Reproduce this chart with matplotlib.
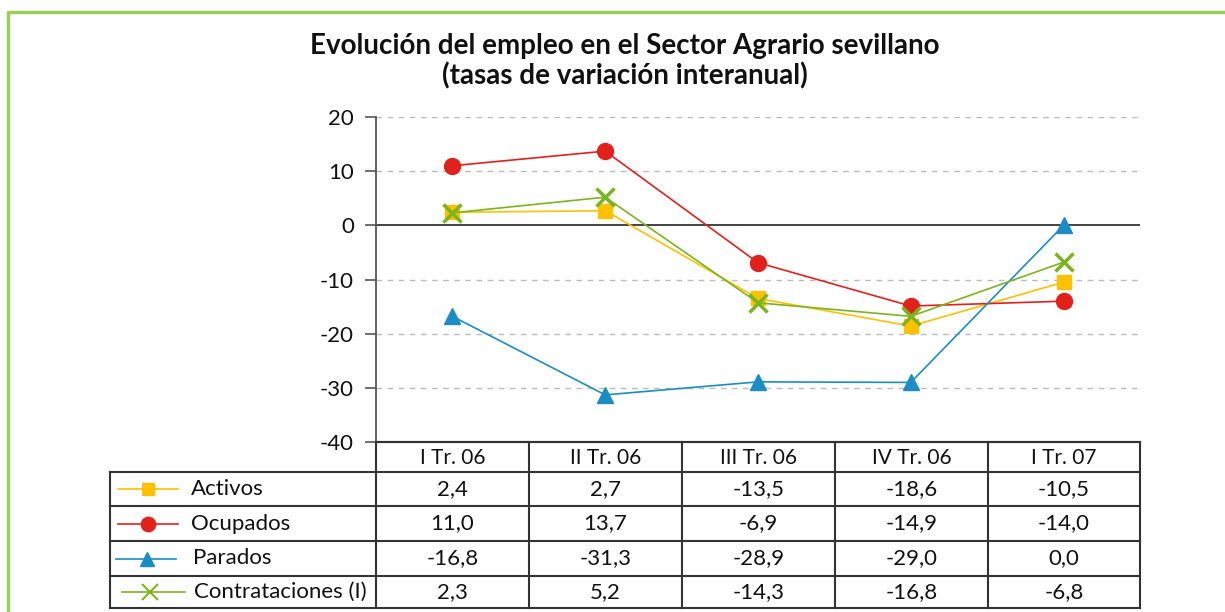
import matplotlib
matplotlib.use('Agg')
import matplotlib.pyplot as plt
import numpy as np

plt.rcParams['font.family'] = ['Lato', 'DejaVu Sans']

# datos
periodos = ['I Tr. 06', 'II Tr. 06', 'III Tr. 06', 'IV Tr. 06', 'I Tr. 07']
activos = [2.4, 2.7, -13.5, -18.6, -10.5]
ocupados = [11.0, 13.7, -6.9, -14.9, -14.0]
parados = [-16.8, -31.3, -28.9, -29.0, 0.0]
contrataciones = [2.3, 5.2, -14.3, -16.8, -6.8]
series = [
    ('Activos', activos, '#FFC000', 's', 10, 1.2),
    ('Ocupados', ocupados, '#E3211C', 'o', 11.5, 1.2),
    ('Parados', parados, '#1A8EC4', '^', 11, 1.2),
    ('Contrataciones (I)', contrataciones, '#7AB51D', 'x', 13, 1.2),
]

W, H = 1225, 612
fig = plt.figure(figsize=(W / 100, H / 100), dpi=100)

def fx(x):
    return x / W
def fy(y):
    return 1 - y / H

# ejes del grafico
x0, x1, ytop, ybot = 376, 1140, 117, 442
ax = fig.add_axes([fx(x0), fy(ybot), fx(x1) - fx(x0), fy(ytop) - fy(ybot)])
xs = np.arange(len(periodos))
ax.set_xlim(-0.5, len(periodos) - 0.5)
ax.set_ylim(-40, 20)
ax.set_yticks([-40, -30, -20, -10, 0, 10, 20])
ax.set_yticklabels(['-40', '-30', '-20', '-10', '0', '10', '20'], fontsize=16, color='#111111')
ax.tick_params(axis='y', direction='out', length=8, width=1.2, color='#555555', pad=8)
ax.set_xticks([])
for s in ['top', 'right', 'bottom']:
    ax.spines[s].set_visible(False)
ax.spines['left'].set_color('#555555')
ax.spines['left'].set_linewidth(1.3)
for g in [20, 10, -10, -20, -30]:
    ax.axhline(g, color='#BBBBBB', lw=1, ls=(0, (4, 4)), zorder=0)
ax.axhline(0, color='#222222', lw=1.2, zorder=1)
ax.axhline(-40, color='#222222', lw=1.5, zorder=1, clip_on=False)

for nombre, vals, col, mk, ms, lw in series:
    kw = dict(color=col, lw=lw, marker=mk, markersize=ms, zorder=3, clip_on=False)
    if mk == 'x':
        kw['markeredgewidth'] = 2.5
    ax.plot(xs, vals, **kw)

fig.text(fx(625), fy(46), 'Evolución del empleo en el Sector Agrario sevillano',
         ha='center', va='center', fontsize=20, fontweight='bold', color='#111111')
fig.text(fx(625), fy(76), '(tasas de variación interanual)',
         ha='center', va='center', fontsize=20, fontweight='bold', color='#111111')

# tabla de datos (capa en pixeles)
ov = fig.add_axes([0, 0, 1, 1], facecolor='none')
ov.set_xlim(0, W)
ov.set_ylim(H, 0)
ov.axis('off')

# borde verde
ov.plot([8, 8, W + 5], [H + 5, 12, 12], color='#9BCF5B', lw=2.5)

cols = [376, 529, 682, 835, 988, 1140]
rows = [472, 506, 541, 576, 608]
lc = '#333333'
ov.plot([x0, 1140], [442, 442], color=lc, lw=1.5)
for y in rows:
    ov.plot([110, 1140], [y, y], color=lc, lw=1.5)
for x in cols:
    ov.plot([x, x], [442, 608], color=lc, lw=1.5)
ov.plot([110, 110], [472, 608], color=lc, lw=1.5)

for i, p in enumerate(periodos):
    ov.text((cols[i] + cols[i + 1]) / 2, 458, p, ha='center', va='center', fontsize=15, color='#111111')

leyenda = [(118, 148, 178, 191), (118, 148, 178, 191), (116, 147, 176, 193), (122, 150, 185, 194)]
for r, (nombre, vals, col, mk, ms, lw) in enumerate(series):
    yc = (rows[r] + rows[r + 1]) / 2
    la, lm, lb, tx = leyenda[r]
    kw = dict(color=col, lw=1.2, marker=mk, markersize=ms * 0.9, markevery=[1])
    if mk == 'x':
        kw['markeredgewidth'] = 1.5
    ov.plot([la, lm, lb], [yc, yc, yc], **kw)
    ov.text(tx, yc, nombre, ha='left', va='center', fontsize=16, color='#111111')
    for i, v in enumerate(vals):
        txt = ('%.1f' % v).replace('.', ',')
        ov.text((cols[i] + cols[i + 1]) / 2, yc, txt, ha='center', va='center', fontsize=16, color='#111111')

fig.savefig('out.png', dpi=100)
